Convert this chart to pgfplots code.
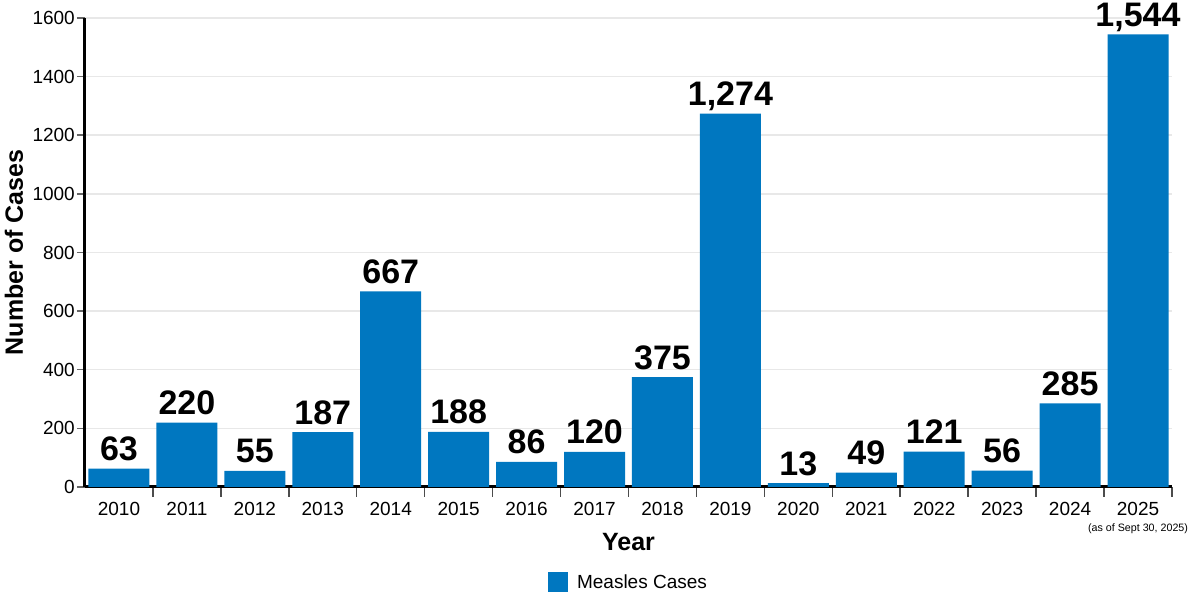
\documentclass[border=0pt]{standalone}
\usepackage{fontspec}
\setmainfont{Liberation Sans}
\usepackage{pgfplots}
\pgfplotsset{compat=1.18}
\definecolor{barblue}{RGB}{0,119,192}
\definecolor{gridgray}{RGB}{232,232,232}
\begin{document}
\begin{tikzpicture}
\useasboundingbox (-85pt,-106pt) rectangle (1104pt,487pt);
\begin{axis}[
  scale only axis, width=1087pt, height=469pt,
  clip=false,
  xmin=-0.5, xmax=15.5, ymin=0, ymax=1600,
  axis x line=bottom, axis y line=left,
  axis line style={-, black, line width=3pt},
  ybar,
  ytick={0,200,...,1600},
  ymajorgrids, grid style={gridgray, line width=1.5pt},
  y tick style={black!60, line width=1.5pt},
  tick align=outside, major tick length=8pt, minor tick length=10pt,
  xtick={0,...,15},
  xticklabels={2010,2011,2012,2013,2014,2015,2016,2017,2018,2019,2020,2021,2022,2023,2024,{2025\\[-3pt]{\fontsize{10.7}{11}\selectfont(as of Sept 30, 2025)}}},
  major x tick style={draw=none},
  minor xtick={0.5,1.5,...,15.5},
  minor x tick style={black!70, line width=1.5pt},
  /pgf/number format/assume math mode=true,
  tick label style={font=\fontsize{19}{19}\selectfont},
  xticklabel style={align=center, inner sep=2pt, yshift=-5pt},
  yticklabel style={inner sep=2pt, /pgf/number format/1000 sep={}},
  xlabel={Year}, ylabel={Number of Cases},
  every axis x label/.style={at={(axis description cs:0.5,0)}, anchor=center, yshift=-55pt, font=\bfseries\fontsize{25}{25}\selectfont},
  every axis y label/.style={at={([xshift=-71pt]axis description cs:0,0.5)}, rotate=90, anchor=center, font=\bfseries\fontsize{25}{25}\selectfont},
  nodes near coords={\pgfmathprintnumber[fixed, precision=0, 1000 sep={,}, assume math mode=true]{\pgfplotspointmeta}},
  every node near coord/.append style={font=\bfseries\fontsize{34}{34}\selectfont, anchor=base, inner sep=0pt, yshift=8pt, black},
  legend style={at={(axis description cs:0.5,0)}, anchor=center, yshift=-95pt, draw=none, font=\fontsize{19}{19}\selectfont},
  legend cell align=left,
]
\addplot[ybar, bar width=61pt, fill=barblue, draw=none,
  legend image code/.code={\fill[barblue] (0pt,-10pt) rectangle (20pt,10pt); \path (27pt,0pt);}]
  coordinates {(0,63) (1,220) (2,55) (3,187) (4,667) (5,188) (6,86) (7,120) (8,375) (9,1274) (10,13) (11,49) (12,121) (13,56) (14,285) (15,1544)};
\addlegendentry{Measles Cases}
\end{axis}
\end{tikzpicture}
\end{document}
